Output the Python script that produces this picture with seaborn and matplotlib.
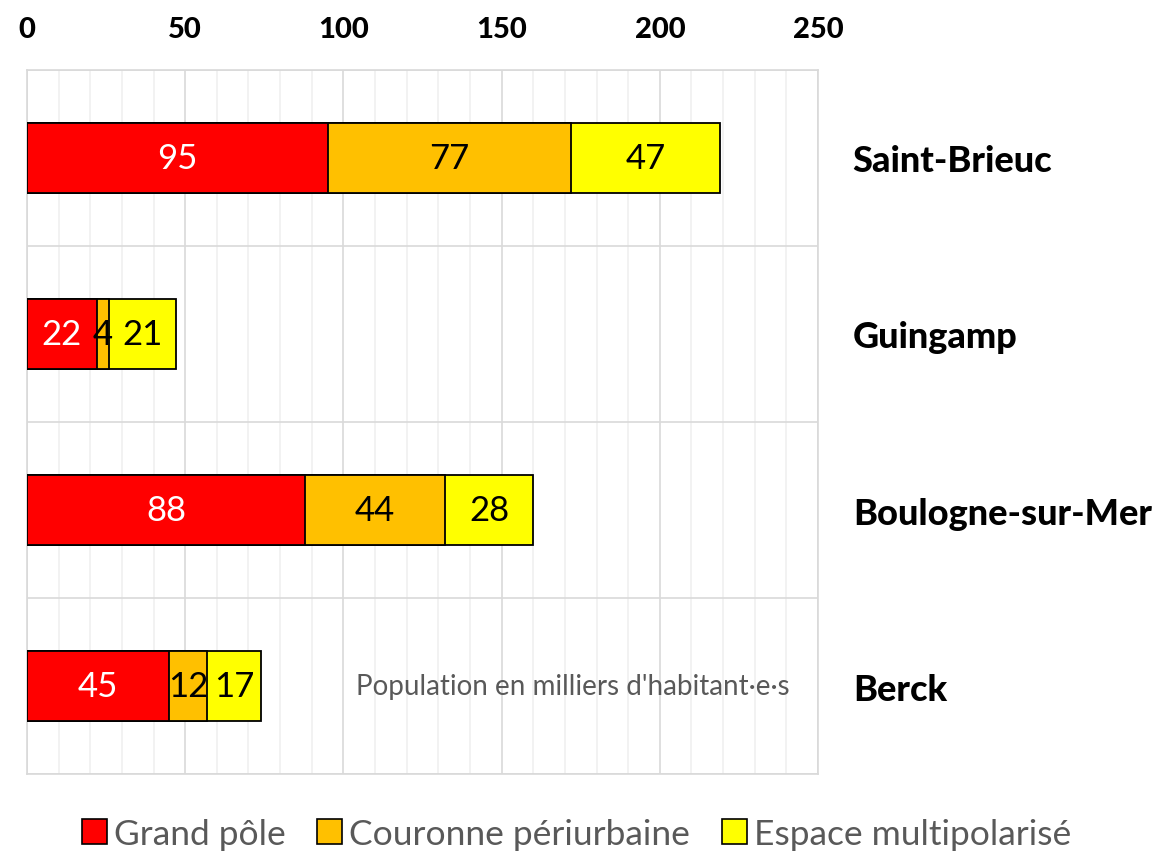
import matplotlib
matplotlib.use("Agg")
import matplotlib.pyplot as plt
from matplotlib.patches import Patch
from matplotlib.ticker import MultipleLocator
import numpy as np
import pandas as pd
import seaborn as sns

# Data
villes = ["Saint-Brieuc", "Guingamp", "Boulogne-sur-Mer", "Berck"]
grand_pole = [95, 22, 88, 45]
couronne = [77, 4, 44, 12]
multipol = [47, 21, 28, 17]
series_names = ["Grand pôle", "Couronne périurbaine", "Espace multipolarisé"]
colors = ["#FF0000", "#FFC000", "#FFFF00"]
text_colors = ["white", "black", "black"]

sns.set_style("white")
plt.rcParams["font.family"] = ["Lato", "DejaVu Sans"]
plt.rcParams["text.color"] = "black"
plt.rcParams["xtick.color"] = "black"
plt.rcParams["ytick.color"] = "black"

df = pd.DataFrame({
    "ville": villes,
    series_names[0]: grand_pole,
    series_names[1]: couronne,
    series_names[2]: multipol,
})
vals = df[series_names].to_numpy()
cum = vals.cumsum(axis=1)

fig = plt.figure(figsize=(11.53, 8.53), dpi=100)
ax = fig.add_axes([0.0234, 0.0914, 0.6861, 0.8254])

# layered totals -> stacked look (draw largest first)
for i in reversed(range(3)):
    sns.barplot(x=cum[:, i], y=df["ville"], orient="h", color=colors[i],
                edgecolor="black", linewidth=1.3, width=0.4, saturation=1,
                ax=ax, zorder=3)

# value labels
for r in range(len(villes)):
    for i in range(3):
        left = cum[r, i] - vals[r, i]
        ax.text(left + vals[r, i] / 2, r, str(vals[r, i]), ha="center",
                va="center", fontsize=25, color=text_colors[i], zorder=5)

ax.set_xlim(0, 250)
ax.set_ylim(3.5, -0.5)
ax.xaxis.set_major_locator(MultipleLocator(50))
ax.xaxis.set_minor_locator(MultipleLocator(10))
ax.set_yticks(range(len(villes)))
ax.set_yticks(np.arange(-0.5, len(villes), 1), minor=True)
ax.grid(axis="x", which="major", color="#d9d9d9", lw=1.2, zorder=0)
ax.grid(axis="x", which="minor", color="#f0f0f0", lw=1.2, zorder=0)
ax.grid(axis="y", which="minor", color="#d9d9d9", lw=1.2, zorder=0)
ax.grid(axis="y", which="major", visible=False)
ax.set_axisbelow(True)

ax.xaxis.tick_top()
ax.yaxis.tick_right()
ax.tick_params(axis="x", which="both", length=0, pad=20, labelsize=21)
ax.tick_params(axis="y", which="both", length=0, pad=25, labelsize=26)
for lab in ax.get_xticklabels():
    lab.set_fontweight("black")
ax.set_yticklabels(villes, fontweight="black", ha="left")
ax.set_xlabel("")
ax.set_ylabel("")
for s in ax.spines.values():
    s.set_color("#d9d9d9")
    s.set_linewidth(1.2)

ax.text(241, 3, "Population en milliers d'habitant·e·s", ha="right",
        va="center", fontsize=20, color="#595959", zorder=6)

handles = [Patch(facecolor=c, edgecolor="black", linewidth=1.2) for c in colors]
fig.legend(handles, series_names, loc="lower center", bbox_to_anchor=(0.5, -0.035),
           ncol=3, frameon=False, fontsize=25.5, labelcolor="#595959",
           handlelength=0.7, handleheight=0.7, handletextpad=0.2,
           columnspacing=0.9)

fig.savefig("out.png", dpi=100)
